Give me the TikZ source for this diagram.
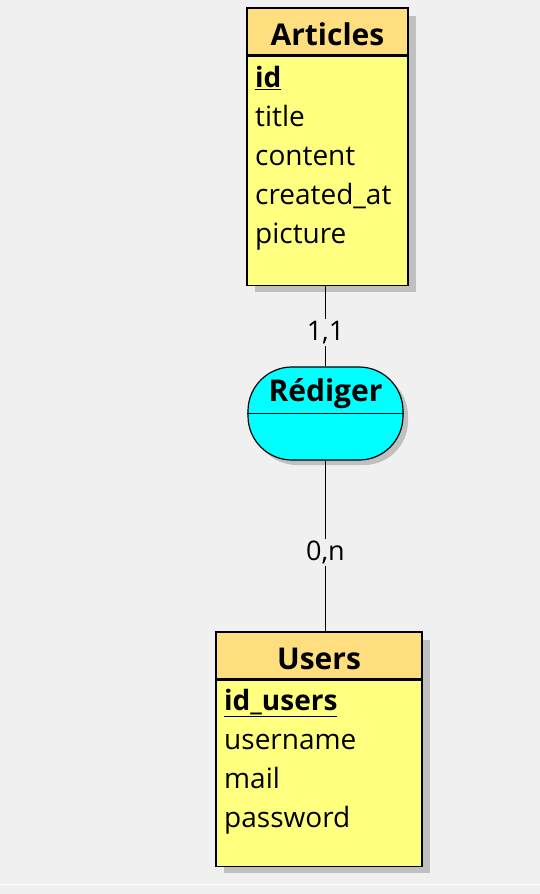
\documentclass[tikz,border=0pt]{standalone}
\usepackage{fontspec}
\setmainfont{Open Sans}
\usepackage{tikz}
\usetikzlibrary{shapes.geometric, arrows, arrows.meta, positioning, calc}
\definecolor{headYellow}{RGB}{255,222,128}
\definecolor{bodyYellow}{RGB}{255,255,128}
\definecolor{assocCyan}{RGB}{0,255,255}
\definecolor{shadowGray}{RGB}{192,192,192}
\definecolor{canvasGray}{RGB}{240,240,240}
\tikzstyle{enthead} = [rectangle,
inner sep=0pt,
text height=28pt, text depth=0pt,
draw=black, line width=1.5pt,
fill=headYellow,
font=\bfseries\fontsize{30}{34}\selectfont]
\tikzstyle{entbody} = [rectangle,
inner sep=0pt,
draw=black, line width=1.5pt,
fill=bodyYellow]
\tikzstyle{fields} = [anchor=north west,
inner sep=0pt,
align=left,
font=\fontsize{28}{39}\selectfont]
\tikzstyle{assoc} = [rectangle,
rounded corners=44pt,
draw=black, line width=1.2pt,
fill=assocCyan]
\tikzstyle{card} = [fill=canvasGray, inner sep=2pt,
font=\fontsize{27}{32}\selectfont]
\tikzstyle{link} = [line width=0.6pt]
\newcommand{\pkey}[1]{\underline{\textbf{#1}}}

\begin{document}
\begin{tikzpicture}[x=1pt, y=-1pt]
            \fill[canvasGray] (0,0) rectangle (540,894);
            \useasboundingbox (0,0) rectangle (540,894);
            \draw[white, line width=1.5pt] (0,884.5) -- (540,884.5);

            % Articles
            \fill[shadowGray] (255,16) rectangle (416,292);
            \node (artHead) [enthead, minimum width=161pt, minimum height=47pt] at (327.5,31.5) {Articles};
            \node (artBody) [entbody, minimum width=161pt, minimum height=229pt, below=0pt of artHead] {};
            \node (artKeys) [fields] at (255,66) {\pkey{id}\\title\\content\\created\_at\\picture};

            % Rediger
            \fill[shadowGray, rounded corners=44pt] (253,372) rectangle (408,465);
            \node (redig) [assoc, minimum width=155pt, minimum height=93pt] at (325.5,413.5) {};
            \draw[line width=1.2pt] (redig.west) -- (redig.east);
            \node (redigName) [font=\bfseries\fontsize{30}{34}\selectfont] at (325.5,394) {Rédiger};

            % Users
            \fill[shadowGray] (224,640) rectangle (430,873);
            \node (usrHead) [enthead, minimum width=206pt, minimum height=47pt] at (319,655.5) {Users};
            \node (usrBody) [entbody, minimum width=206pt, minimum height=186pt, below=0pt of usrHead] {};
            \node (usrKeys) [fields] at (224,689) {\pkey{id\_users}\\username\\mail\\password};

            \draw [link] (redig.north) -- node[card, pos=0.42] {1,1} (redig.north |- artBody.south);
            \draw [link] (redig.south) -- node[card, pos=0.54] {0,n} (redig.south |- usrHead.north);
        \end{tikzpicture}
\end{document}
